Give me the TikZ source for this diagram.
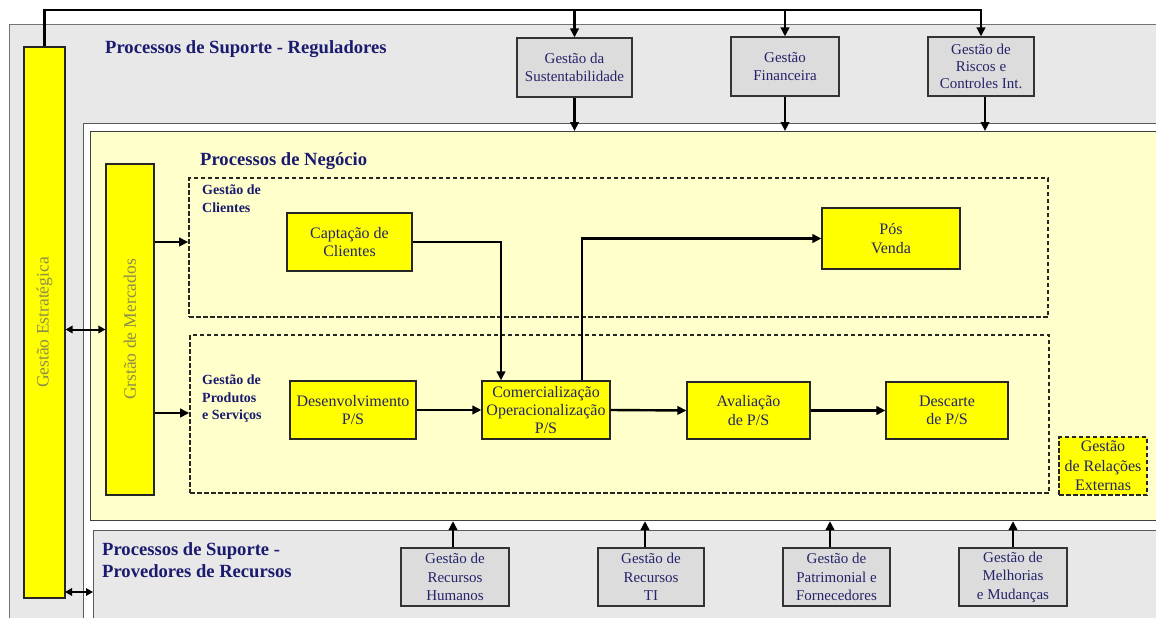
\documentclass[tikz,border=0pt]{standalone}
\usepackage{fontspec}
\setmainfont{Liberation Serif}
\usetikzlibrary{arrows.meta}
\definecolor{panelgray}{HTML}{E8E8E8}
\definecolor{boxgray}{HTML}{DCDCDC}
\definecolor{paleyellow}{HTML}{FFFFCC}
\definecolor{brightyellow}{HTML}{FFFF00}
\definecolor{titlenavy}{HTML}{1A1A6E}
\definecolor{labelnavy}{HTML}{24246A}
\definecolor{bartext}{HTML}{8C8C4E}
\definecolor{edgegray}{HTML}{5A5A5A}

\begin{document}
\begin{tikzpicture}[x=1pt,y=-1pt,
  region/.style={draw=edgegray, line width=1.1pt, inner sep=0pt, anchor=north west},
  title/.style={text=titlenavy, font=\fontsize{18.6}{22}\selectfont\bfseries, inner sep=0pt},
  grouplabel/.style={text=titlenavy, font=\fontsize{14}{17.5}\selectfont\bfseries, align=left, inner sep=0pt, anchor=north west},
  ybox/.style={draw=black!85, line width=1.2pt, fill=brightyellow, text=labelnavy, align=center,
    inner sep=0pt, font=\fontsize{16}{18.5}\selectfont},
  gbox/.style={draw=black!80, line width=1.2pt, fill=boxgray, text=labelnavy, align=center,
    inner sep=0pt, font=\fontsize{15}{18.5}\selectfont},
  bar/.style={draw=black!85, line width=1.2pt, fill=brightyellow, inner sep=0pt},
  bartitle/.style={rotate=90, text=bartext, font=\fontsize{17.5}{20}\selectfont, inner sep=0pt},
  group/.style={draw=black!85, line width=1.6pt, dash pattern=on 4.5pt off 2.5pt, inner sep=0pt},
  conn/.style={line width=2.4pt, draw=black, -{Triangle[length=9pt,width=8.5pt]}},
  plain/.style={line width=2.4pt, draw=black},
  twoway/.style={line width=2pt, draw=black, {Triangle[length=7pt,width=7.5pt]}-{Triangle[length=7pt,width=7.5pt]}}
]
% page area
\fill[white] (0,0) rectangle (1156,618);
\clip (0,0) rectangle (1156,618);

% nested process regions
\node[region, fill=panelgray, draw=black!55, minimum width=1170pt, minimum height=620pt] (sup) at (9,24) {};
\node[region, fill=white, minimum width=1100pt, minimum height=520pt] (frame) at (83,123) {};
\node[region, fill=paleyellow, draw=black!75, minimum width=1090pt, minimum height=389pt] (biz) at (90,131) {};
\node[region, fill=panelgray, minimum width=1090pt, minimum height=100pt] (prov) at (93,530) {};

% region titles
\node[title, anchor=base west] at (105,53) {Processos de Suporte - Reguladores};
\node[title, anchor=base west] at (200,165) {Processos de Negócio};
\node[title, anchor=north west, align=left] at (102,542.5) {Processos de Suporte -\\Provedores de Recursos};

% strategic and market bars
\node[bar, minimum width=41pt, minimum height=551pt] (strat) at (44.5,322.5) {};
\node[bartitle] at (strat.center) {Gestão Estratégica};
\node[bar, minimum width=48pt, minimum height=331pt] (merc) at (130,329.5) {};
\node[bartitle] at (merc.center) {Grstão de Mercados};

% regulating support boxes
\node[gbox, minimum width=115pt, minimum height=59pt] (sust) at (574.5,67.5) {Gestão da\\Sustentabilidade};
\node[gbox, minimum width=108pt, minimum height=59pt] (fin) at (785,66.5) {Gestão\\Financeira};
\node[gbox, minimum width=106pt, minimum height=59pt, font=\fontsize{15}{17}\selectfont] (risk) at (981,66.5) {Gestão de\\Riscos e\\Controles Int.};

% business process groups
\node[group, minimum width=859pt, minimum height=139pt] (cli) at (618.5,247.5) {};
\node[group, minimum width=859pt, minimum height=158pt] (prod) at (619.5,414) {};
\node[grouplabel] at (202,185) {Gestão de\\Clientes};
\node[grouplabel] at (202,375) {Gestão de\\Produtos\\e Serviços};

% business process steps
\node[ybox, minimum width=125pt, minimum height=58pt] (cap) at (349.5,242) {Captação de\\Clientes};
\node[ybox, minimum width=138pt, minimum height=61pt] (pos) at (891,238.5) {Pós\\Venda};
\node[ybox, minimum width=126pt, minimum height=58pt] (dev) at (353,410) {Desenvolvimento\\P/S};
\node[ybox, minimum width=128pt, minimum height=58pt, font=\fontsize{16}{18}\selectfont] (com) at (546,410) {Comercialização\\Operacionalização\\P/S};
\node[ybox, minimum width=123pt, minimum height=57pt] (aval) at (748.5,410.5) {Avaliação\\de P/S};
\node[ybox, minimum width=122pt, minimum height=57pt] (desc) at (947,410.5) {Descarte\\de P/S};
\node[ybox, group, fill=brightyellow, text=labelnavy, font=\fontsize{16}{19.5}\selectfont, minimum width=88pt, minimum height=58pt] (ext) at (1103,466) {Gestão\\de Relações\\Externas};

% resource provider boxes
\node[gbox, minimum width=108pt, minimum height=58pt] (hr) at (455,577) {Gestão de\\Recursos\\Humanos};
\node[gbox, minimum width=106pt, minimum height=58pt] (ti) at (651,577) {Gestão de\\Recursos\\TI};
\node[gbox, minimum width=107pt, minimum height=58pt] (patr) at (836.5,577) {Gestão de\\Patrimonial e\\Fornecedores};
\node[gbox, minimum width=108pt, minimum height=58pt] (melh) at (1013,577) {Gestão de\\Melhorias\\e Mudanças};

% strategic bus over the regulating boxes
\coordinate (bus) at (0,10);
\draw[conn, line join=miter] (strat.north) |- (risk.north |- bus) -- (risk.north);
\draw[conn] (sust.north |- bus) -- (sust.north);
\draw[conn] (fin.north |- bus) -- (fin.north);

% regulating boxes feed the business area
\draw[conn] (sust.south) -- (sust.south |- biz.north);
\draw[conn] (fin.south) -- (fin.south |- biz.north);
\draw[conn] ([xshift=4pt]risk.south) -- ([xshift=4pt]risk.south |- biz.north);

% resource providers feed the business area
\path (hr.north) ++(-2,0) coordinate (hrA);
\path (ti.north) ++(-6,0) coordinate (tiA);
\path (patr.north) ++(-6.5,0) coordinate (patrA);
\draw[conn] (hrA) -- (hrA |- biz.south);
\draw[conn] (tiA) -- (tiA |- biz.south);
\draw[conn] (patrA) -- (patrA |- biz.south);
\draw[conn] (melh.north) -- (melh.north |- biz.south);

% strategic and market links
\draw[twoway] (strat.east |- merc.west) -- (merc.west);
\coordinate (lowlink) at (65,592);
\draw[twoway] (lowlink) -- (lowlink -| prov.west);
\draw[conn] (merc.east |- cap.west) -- (cli.west |- cap.west);
\draw[conn] (merc.east |- 0,413) -- (prod.west |- 0,413);

% process flow
\path (com.north) ++(-45,0) coordinate (comIn);
\path (com.north) ++(36,0) coordinate (comOut);
\draw[conn] (cap.east) -| (comIn);
\draw[conn] (comOut) |- (pos.west);
\draw[conn] (dev.east) -- (com.west);
\draw[conn] (com.east) -- (aval.west);
\draw[conn] (aval.east) -- (desc.west);
\end{tikzpicture}
\end{document}
